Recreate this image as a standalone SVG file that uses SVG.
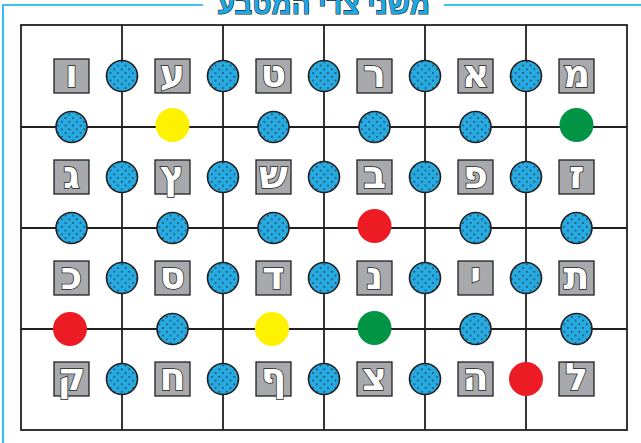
<svg xmlns="http://www.w3.org/2000/svg" width="641" height="443" viewBox="0 0 641 443">
<style>
.grid{fill:none;stroke:#231f20;stroke-width:1.8}
.frame{fill:none;stroke:#00aeef;stroke-width:1.6}
.sq{fill:#a7a9ac;stroke:#231f20;stroke-width:1.3}
.lt{font-family:"DejaVu Sans","Liberation Sans",sans-serif;font-weight:bold;font-size:38px;fill:#fff;stroke:#231f20;stroke-width:1.5;paint-order:stroke;text-anchor:middle}
.blue{fill:url(#dots);stroke:#231f20;stroke-width:1.6}
.yellow{fill:#fff200}
.red{fill:#ed1c24}
.green{fill:#009444}
.title{font-family:"Liberation Sans","DejaVu Sans",sans-serif;font-weight:bold;font-size:28px;fill:#1ca8e3;stroke:#231f20;stroke-width:1.2;paint-order:stroke;text-anchor:middle}
</style>
<defs>
<pattern id="dots" width="7.5" height="7.5" patternUnits="userSpaceOnUse">
<rect width="7.5" height="7.5" fill="#27aae1"/>
<circle cx="1.8" cy="1.8" r="0.75" fill="#1a1a1a"/>
<circle cx="5.55" cy="5.55" r="0.75" fill="#1a1a1a"/>
</pattern>
</defs>
<rect width="641" height="443" fill="#fff"/>
<g id="frame">
<path class="frame" d="M3,443 V5 H203 M444,5 H641"/>
<text class="title" x="324" y="14" textLength="212" lengthAdjust="spacingAndGlyphs">משני צדי המטבע</text>
</g>
<g id="connectors">
<rect class="grid" x="21" y="25" width="606" height="405"/>
<path class="grid" d="M122,25V430M223,25V430M324,25V430M425,25V430M526,25V430M21,127H627M21,228H627M21,329H627"/>
</g>
<g id="row1">
<g id="n-vav"><rect class="sq" x="54" y="59" width="35" height="34"/><text class="lt" x="71.5" y="87">ו</text></g>
<g id="n-ayin"><rect class="sq" x="155" y="59" width="35" height="34"/><text class="lt" x="172.5" y="87">ע</text></g>
<g id="n-tet"><rect class="sq" x="256" y="59" width="35" height="34"/><text class="lt" x="273.5" y="87">ט</text></g>
<g id="n-resh"><rect class="sq" x="357" y="59" width="35" height="34"/><text class="lt" x="374.5" y="87">ר</text></g>
<g id="n-alef"><rect class="sq" x="458" y="59" width="35" height="34"/><text class="lt" x="475.5" y="87">א</text></g>
<g id="n-mem"><rect class="sq" x="559" y="59" width="35" height="34"/><text class="lt" x="576.5" y="87">מ</text></g>
</g>
<g id="row2">
<g id="n-gimel"><rect class="sq" x="54" y="160" width="35" height="34"/><text class="lt" x="71.5" y="188">ג</text></g>
<g id="n-tsadifinal"><rect class="sq" x="155" y="160" width="35" height="34"/><text class="lt" x="172.5" y="188">ץ</text></g>
<g id="n-shin"><rect class="sq" x="256" y="160" width="35" height="34"/><text class="lt" x="273.5" y="188">ש</text></g>
<g id="n-bet"><rect class="sq" x="357" y="160" width="35" height="34"/><text class="lt" x="374.5" y="188">ב</text></g>
<g id="n-pe"><rect class="sq" x="458" y="160" width="35" height="34"/><text class="lt" x="475.5" y="188">פ</text></g>
<g id="n-zayin"><rect class="sq" x="559" y="160" width="35" height="34"/><text class="lt" x="576.5" y="188">ז</text></g>
</g>
<g id="row3">
<g id="n-kaf"><rect class="sq" x="54" y="261" width="35" height="34"/><text class="lt" x="71.5" y="289">כ</text></g>
<g id="n-samekh"><rect class="sq" x="155" y="261" width="35" height="34"/><text class="lt" x="172.5" y="289">ס</text></g>
<g id="n-dalet"><rect class="sq" x="256" y="261" width="35" height="34"/><text class="lt" x="273.5" y="289">ד</text></g>
<g id="n-nun"><rect class="sq" x="357" y="261" width="35" height="34"/><text class="lt" x="374.5" y="289">נ</text></g>
<g id="n-yod"><rect class="sq" x="458" y="261" width="35" height="34"/><text class="lt" x="475.5" y="289">י</text></g>
<g id="n-tav"><rect class="sq" x="559" y="261" width="35" height="34"/><text class="lt" x="576.5" y="289">ת</text></g>
</g>
<g id="row4">
<g id="n-qof"><rect class="sq" x="54" y="362" width="35" height="34"/><text class="lt" x="71.5" y="390">ק</text></g>
<g id="n-het"><rect class="sq" x="155" y="362" width="35" height="34"/><text class="lt" x="172.5" y="390">ח</text></g>
<g id="n-pefinal"><rect class="sq" x="256" y="362" width="35" height="34"/><text class="lt" x="273.5" y="390">ף</text></g>
<g id="n-tsadi"><rect class="sq" x="357" y="362" width="35" height="34"/><text class="lt" x="374.5" y="390">צ</text></g>
<g id="n-he"><rect class="sq" x="458" y="362" width="35" height="34"/><text class="lt" x="475.5" y="390">ה</text></g>
<g id="n-lamed"><rect class="sq" x="559" y="362" width="35" height="34"/><text class="lt" x="576.5" y="390">ל</text></g>
</g>
<g id="vertical-coins">
<circle class="blue" cx="122" cy="76" r="15.5"/><circle class="blue" cx="223" cy="76" r="15.5"/><circle class="blue" cx="324" cy="76" r="15.5"/><circle class="blue" cx="425" cy="76" r="15.5"/><circle class="blue" cx="526" cy="76" r="15.5"/>
<circle class="blue" cx="122" cy="177" r="15.5"/><circle class="blue" cx="223" cy="177" r="15.5"/><circle class="blue" cx="324" cy="177" r="15.5"/><circle class="blue" cx="425" cy="177" r="15.5"/><circle class="blue" cx="526" cy="177" r="15.5"/>
<circle class="blue" cx="122" cy="278" r="15.5"/><circle class="blue" cx="223" cy="278" r="15.5"/><circle class="blue" cx="324" cy="278" r="15.5"/><circle class="blue" cx="425" cy="278" r="15.5"/><circle class="blue" cx="526" cy="278" r="15.5"/>
<circle class="blue" cx="122" cy="379" r="15.5"/><circle class="blue" cx="223" cy="379" r="15.5"/><circle class="blue" cx="324" cy="379" r="15.5"/><circle class="blue" cx="425" cy="379" r="15.5"/><circle class="red" cx="526" cy="379" r="17"/>
</g>
<g id="horizontal-coins">
<circle class="blue" cx="71.5" cy="127" r="15.5"/><circle class="yellow" cx="172.5" cy="125" r="17"/><circle class="blue" cx="273.5" cy="127" r="15.5"/><circle class="blue" cx="374.5" cy="127" r="15.5"/><circle class="blue" cx="475.5" cy="127" r="15.5"/><circle class="green" cx="576.5" cy="125" r="17"/>
<circle class="blue" cx="71.5" cy="228" r="15.5"/><circle class="blue" cx="172.5" cy="228" r="15.5"/><circle class="blue" cx="273.5" cy="228" r="15.5"/><circle class="red" cx="374.5" cy="226" r="17"/><circle class="blue" cx="475.5" cy="228" r="15.5"/><circle class="blue" cx="576.5" cy="228" r="15.5"/>
<circle class="red" cx="70" cy="329" r="17"/><circle class="blue" cx="172.5" cy="329" r="15.5"/><circle class="yellow" cx="272" cy="329" r="17"/><circle class="green" cx="374.5" cy="328" r="17"/><circle class="blue" cx="475.5" cy="329" r="15.5"/><circle class="blue" cx="576.5" cy="329" r="15.5"/>
</g>
</svg>
